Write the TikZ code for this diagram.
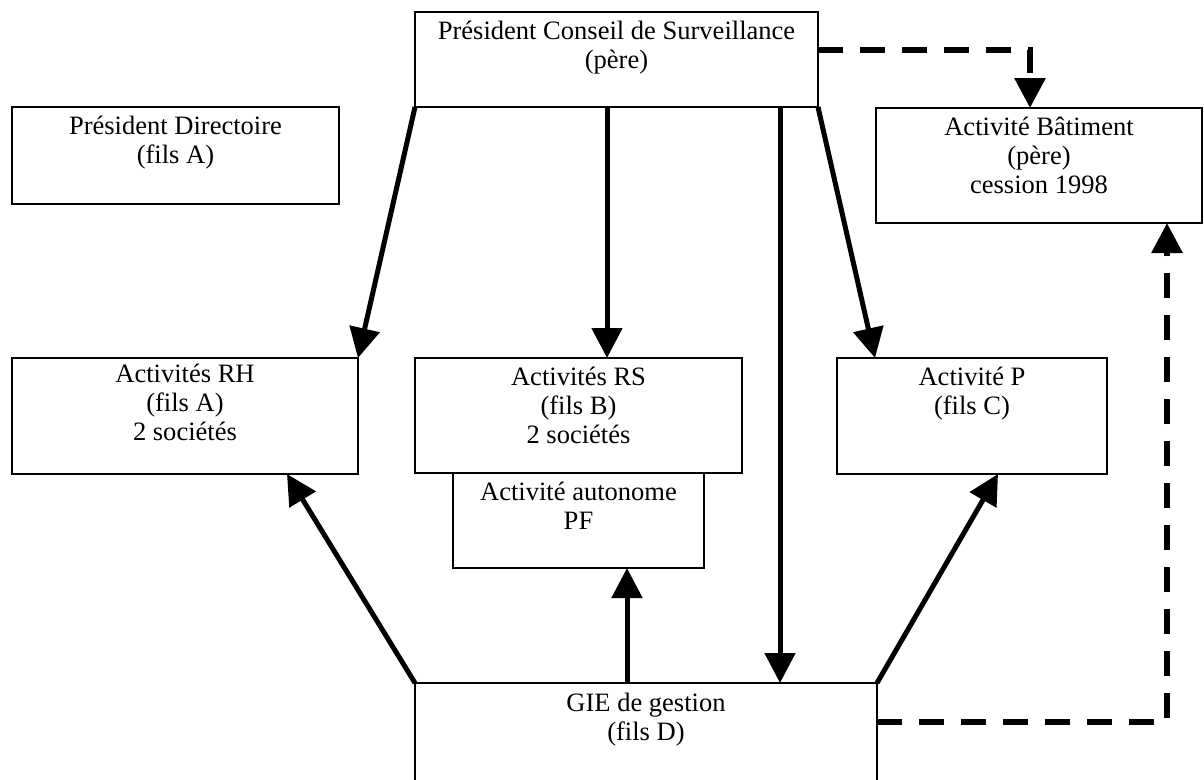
\documentclass[tikz,border=0pt]{standalone}
\usepackage{fontspec}
\setmainfont{Liberation Serif}
\usetikzlibrary{arrows.meta,fit,calc}
\newcommand\boxfont{\fontsize{19.9}{21.75}\selectfont}
\newcommand\tstrut{\rule{0pt}{15pt}}
\begin{document}
\begin{tikzpicture}[x=0.75pt,y=-0.75pt,
  box/.style={draw, line width=1.1pt, inner sep=0pt, outer sep=0pt},
  txt/.style={anchor=north, align=center, inner sep=0pt, font=\boxfont},
  arr/.style={line width=3.75pt, -{Triangle[length=22.5pt,width=22.5pt]}},
  darr/.style={line width=4.5pt, dash pattern=on 18.75pt off 12.75pt, -{Triangle[length=22.5pt,width=22.5pt]}}]
\clip (0,0) rectangle (1204,779);
% boxes
\node[box, fit={(415,12) (818,107)}] (pcs) {};
\node[box, fit={(12,107) (339,204)}] (pd) {};
\node[box, fit={(876,108) (1202,223)}] (ab) {};
\node[box, fit={(12,358) (358,474)}] (rh) {};
\node[box, fit={(415,358) (742,473)}] (rs) {};
\node[box, fit={(453,473) (704,568)}] (pf) {};
\node[box, fit={(837,358) (1107,474)}] (p) {};
\node[box, fit={(415,683) (877,795)}] (gie) {};
% texts
\node[txt] (tpcs) at ([yshift=-5.25pt]pcs.north) {\tstrut Président Conseil de Surveillance\\(père)};
\node[txt] (tpd) at ([yshift=-5.25pt]pd.north) {\tstrut Président Directoire\\(fils A)};
\node[txt] (tab) at ([yshift=-5.25pt]ab.north) {\tstrut Activité Bâtiment\\(père)\\cession 1998};
\node[txt] (trh) at ([yshift=-3pt]rh.north) {\tstrut Activités RH\\(fils A)\\2 sociétés};
\node[txt] (trs) at ([yshift=-5.25pt]rs.north) {\tstrut Activités RS\\(fils B)\\2 sociétés};
\node[txt] (tpf) at ([yshift=-5.25pt]pf.north) {\tstrut Activité autonome\\PF};
\node[txt] (tp) at ([yshift=-5.25pt]p.north) {\tstrut Activité P\\(fils C)};
\node[txt] (tgie) at ([yshift=-6pt]gie.north) {\tstrut GIE de gestion\\(fils D)};
% connectors
\draw[arr] (pcs.south west) -- (rh.north east);
\draw[arr] ([xshift=144pt]pcs.south west) -- ([xshift=144pt]rs.north west);
\draw[arr] ([xshift=273.75pt]pcs.south west) -- ([xshift=273.75pt]gie.north west);
\draw[arr] (pcs.south east) -- ([xshift=28.5pt]p.north west);
\draw[arr] (gie.north west) -- ([xshift=206.25pt]rh.south west);
\draw[arr] ([xshift=159pt]gie.north west) -- ([xshift=130.5pt]pf.south west);
\draw[arr] (gie.north east) -- ([xshift=120.75pt]p.south west);
\draw[darr] ([yshift=-28.5pt]pcs.north east) -| ([xshift=115.5pt]ab.north west);
\draw[darr] ([yshift=-29.25pt]gie.north east) -| ([xshift=218.25pt]ab.south west);
\end{tikzpicture}
\end{document}
